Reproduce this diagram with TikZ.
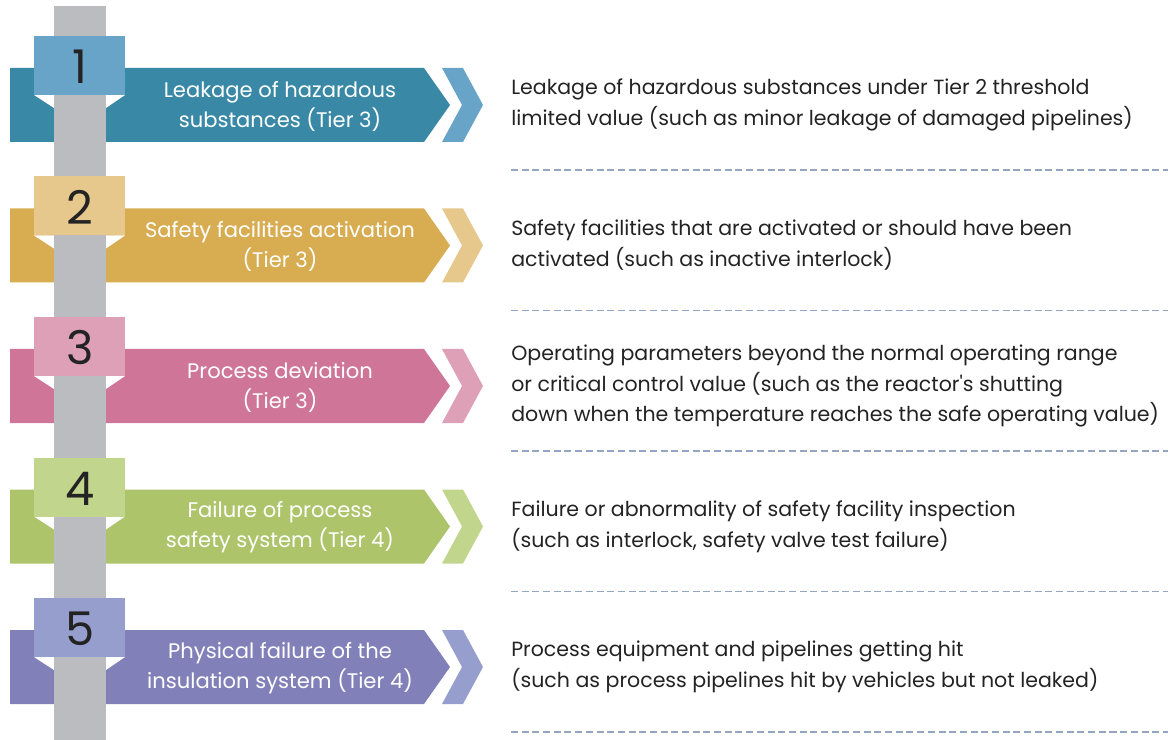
\documentclass[tikz,border=0pt]{standalone}
\usepackage{fontspec}
\setmainfont{Poppins}
\usetikzlibrary{positioning}

\definecolor{tealdk}{RGB}{56,136,166}
\definecolor{teallt}{RGB}{104,164,200}
\definecolor{golddk}{RGB}{216,173,82}
\definecolor{goldlt}{RGB}{230,199,140}
\definecolor{pinkdk}{RGB}{207,118,152}
\definecolor{pinklt}{RGB}{222,160,183}
\definecolor{greendk}{RGB}{173,196,106}
\definecolor{greenlt}{RGB}{194,213,140}
\definecolor{violetdk}{RGB}{130,128,184}
\definecolor{violetlt}{RGB}{150,158,206}
\definecolor{postgrey}{RGB}{187,188,192}
\definecolor{dashgrey}{RGB}{150,166,192}
\definecolor{txtgrey}{RGB}{35,35,35}

\begin{document}
\begin{tikzpicture}[x=0.025cm,y=-0.025cm,
  bannertext/.style={text=white, align=center, inner sep=0pt,
    font=\fontsize{15}{21.3}\selectfont},
  desctext/.style={text=txtgrey, align=left, anchor=west, inner sep=0pt,
    font=\fontsize{14.6}{22}\selectfont},
  numtext/.style={text=txtgrey, inner sep=0pt, font=\fontsize{33}{33}\selectfont},
  sepline/.style={dashgrey, line width=1.3pt, dash pattern=on 5pt off 2.6pt}]

\useasboundingbox (0,0) rectangle (1168,740);

\def\rowstep{140.5}

%---------------------------------------
% Banners, chevrons and descriptions
%---------------------------------------
\foreach \i/\dk/\lt/\lbl/\desc in {
  1/tealdk/teallt/{Leakage of hazardous\\substances (Tier 3)}/{Leakage of hazardous substances under Tier 2 threshold\\limited value (such as minor leakage of damaged pipelines)},
  2/golddk/goldlt/{Safety facilities activation\\(Tier 3)}/{Safety facilities that are activated or should have been\\activated (such as inactive interlock)},
  3/pinkdk/pinklt/{Process deviation\\(Tier 3)}/{Operating parameters beyond the normal operating range\\or critical control value (such as the reactor\textquotesingle s shutting\\down when the temperature reaches the safe operating value)},
  4/greendk/greenlt/{Failure of process\\safety system (Tier 4)}/{Failure or abnormality of safety facility inspection\\(such as interlock, safety valve test failure)},
  5/violetdk/violetlt/{Physical failure of the\\insulation system (Tier 4)}/{Process equipment and pipelines getting hit\\(such as process pipelines hit by vehicles but not leaked)}}{
  \pgfmathsetmacro{\yt}{68+(\i-1)*\rowstep}
  % banner arrow
  \fill[\dk] (10,\yt) -- ++(414,0) -- ++(26,37) -- ++(-26,37) -- ++(-414,0) -- cycle;
  % chevron
  \fill[\lt] (442,\yt) -- ++(21,0) -- ++(20,37) -- ++(-20,37) -- ++(-21,0) -- ++(20,-37) -- cycle;
  % fold under the number tab
  \fill[white] (34,\yt+27) -- (54,\yt+27) -- (54,\yt+40) -- cycle;
  \fill[white] (106,\yt+27) -- (125,\yt+27) -- (106,\yt+40) -- cycle;
  \node[bannertext] (lbl\i) at (280,\yt+38) {\lbl};
  \node[desctext] (desc\i) at (511,\yt+37) {\desc};
  % separator
  \coordinate (sepL\i) at (511,\yt+102);
  \coordinate (sepR\i) at (1168,\yt+102);
  \draw[sepline] (sepL\i) -- (sepR\i);
}

% Post
\fill[postgrey] (54,6) rectangle (106,740);

%---------------------------------------
% Number tabs
%---------------------------------------
\foreach \i/\lt in {1/teallt,2/goldlt,3/pinklt,4/greenlt,5/violetlt}{
  \pgfmathsetmacro{\yt}{68+(\i-1)*\rowstep}
  \fill[\lt] (34,\yt-32) rectangle (125,\yt+27);
  \node[numtext] (num\i) at (80,\yt-1) {\i};
}

\end{tikzpicture}
\end{document}
